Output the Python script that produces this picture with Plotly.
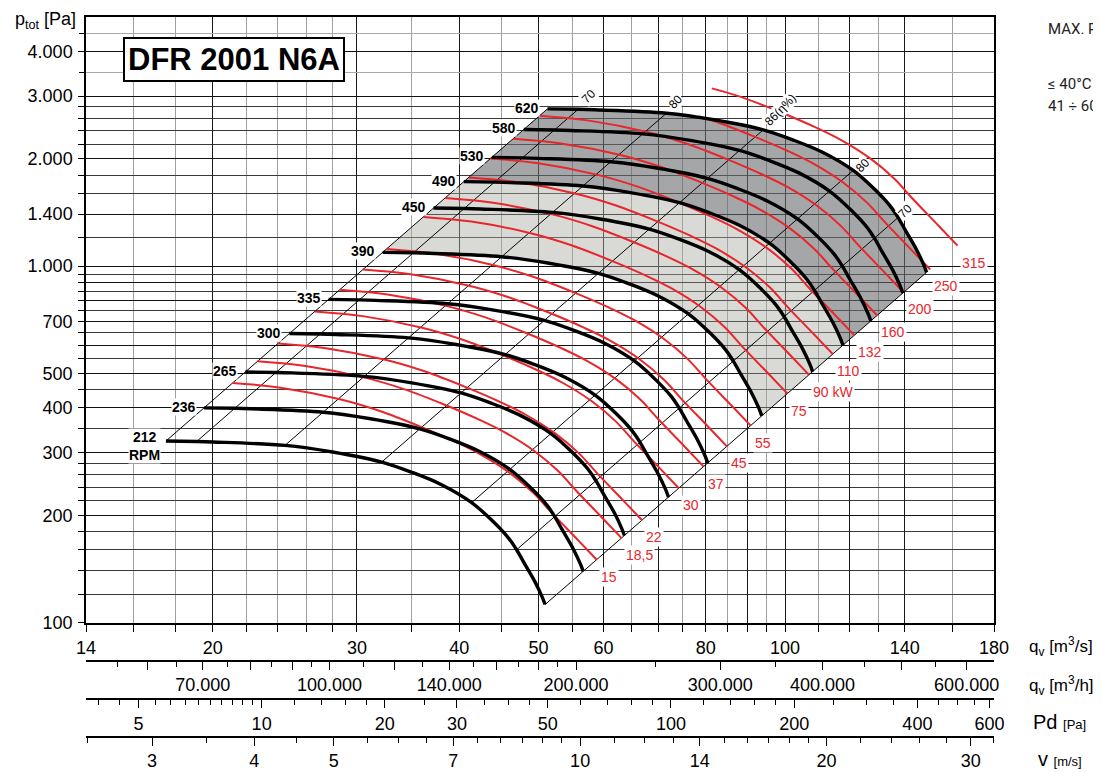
import math
import plotly.graph_objects as go

L = math.log10

# ------------------------------------------------------------------ data
# fan speeds (black characteristic curves)
rpm_values = [212, 236, 265, 300, 335, 390, 450, 490, 530, 580, 620]
rpm_labels = ['212<br>RPM', '236', '265', '300', '335', '390', '450', '490', '530', '580', '620']

# characteristic read at 212 RPM  (q in m3/s, p_tot in Pa)
base_rpm = 212
base_q = [17.53, 19.11, 20.0, 24.5, 28.0, 32.16, 35.0, 38.0, 41.42, 44.0, 46.0, 47.0, 48.0, 49.5, 50.5, 50.92]
base_p = [323, 322, 321, 314, 301, 282, 264, 244, 217, 192, 172, 160, 147, 130, 118, 112.3]

# efficiency lines: flow where they cut the 212 RPM curve (first/last = limits)
eta_q212 = [17.53, 19.11, 24.5, 32.16, 41.42, 47.0, 50.92]
eta_labels = [None, '70', '80', '86(η%)', '80', '70', None]
eta_label_shift = [None, (11, 13), (9, 11), (17, 20), (10, 5), (7, 7), None]

# motor power curves (red) - curve read for 15 kW
power_base_kw = 15
power_q = [21.15, 24.2, 28.6, 32.0, 35.8, 39.5, 42.4, 46.1, 49.3, 51.9, 55.9, 58.88]
power_p = [470, 456, 423, 392, 355, 322, 297, 263, 231, 203, 170, 150]
power_kw = [15, 18.5, 22, 30, 37, 45, 55, 75, 90, 110, 132, 160, 200, 250, 315]
power_labels = ['15', '18,5', '22', '30', '37', '45', '55', '75', '90 kW',
                '110', '132', '160', '200', '250', '315']
power_visible_from_q = [None] * 13 + [78.5, 81.4]

# shaded areas (between these speeds)
light_band = (390, 490)
dark_band = (490, 620)

# axes
q_range = (14, 180)
p_range = (100, 5000)
x_major = [14, 20, 30, 40, 50, 60, 70, 80, 90, 100, 120, 140, 180]
x_major_text = ['14', '20', '30', '40', '50', '60', ' ', '80', ' ', '100', ' ', '140', '180']
x_minor = [16, 18, 22, 24, 26, 28, 35, 45, 55, 65, 75, 85, 95, 110, 130, 160]
y_major = [100, 200, 300, 400, 500, 600, 700, 800, 900, 1000, 1400, 2000, 3000, 4000]
y_major_text = ['100', '200', '300', '400', '500', ' ', '700', ' ', ' ', '1.000', '1.400',
                '2.000', '3.000', '4.000']
y_minor = [120, 140, 160, 180, 220, 240, 260, 280, 350, 450, 550, 650, 750, 850, 950,
           1200, 1600, 1800, 2200, 2400, 2600, 2800]
y_light = [3500, 4500]

qh_major = [60000, 70000, 80000, 90000, 100000, 120000, 140000, 160000, 180000,
            200000, 300000, 400000, 500000, 600000]
qh_major_text = [' ', '70.000', ' ', ' ', '100.000', ' ', '140.000', ' ', ' ', '200.000',
                 '300.000', '400.000', ' ', '600.000']
qh_minor = [55000, 65000, 75000, 85000, 95000, 110000, 130000, 150000, 170000, 190000,
            250000, 350000, 450000, 550000]
pd_major = [5, 10, 20, 30, 50, 100, 200, 400, 600]
pd_minor = [4, 4.5, 5.5, 6, 6.5, 7, 7.5, 8, 8.5, 9, 9.5, 12, 14, 16, 18, 25, 35, 40, 45,
            60, 70, 80, 90, 120, 140, 160, 180, 250, 300, 350, 450, 500, 550]
v_major = [3, 4, 5, 7, 10, 14, 20, 30]
v_minor = [2.5, 3.5, 4.5, 5.5, 6, 6.5, 7.5, 8, 8.5, 9, 9.5, 11, 12, 13, 15, 16, 17, 18,
           19, 22, 24, 26, 28, 32]
outlet_area = 5.62      # m2
air_density = 1.2       # kg/m3

RED = '#e8262c'
FONT = 'Liberation Sans, Arial, sans-serif'


# ------------------------------------------------------------------ helpers
def speed_curve(n):
    s = n / base_rpm
    return [q * s for q in base_q], [p * s * s for p in base_p]


def power_curve(kw):
    s = (kw / power_base_kw) ** (1.0 / 3.0)
    return [q * s for q in power_q], [p * s * s for p in power_p]


def clip_from(qs, ps, q0):
    out_q, out_p = [], []
    for i in range(len(qs)):
        if qs[i] >= q0:
            if not out_q and i > 0:
                a = (L(q0) - L(qs[i - 1])) / (L(qs[i]) - L(qs[i - 1]))
                lp = L(ps[i - 1]) + a * (L(ps[i]) - L(ps[i - 1]))
                out_q.append(q0)
                out_p.append(10 ** lp)
            out_q.append(qs[i])
            out_p.append(ps[i])
    return out_q, out_p


def pd_of(q):
    v = q / outlet_area
    return 0.5 * air_density * v * v


fig = go.Figure()

# shaded bands
for (n_lo, n_hi), col in [(light_band, 'rgba(170,170,164,0.45)'),
                          (dark_band, 'rgba(105,107,110,0.60)')]:
    ql, pl = speed_curve(n_lo)
    qh, ph = speed_curve(n_hi)
    fig.add_trace(go.Scatter(x=ql, y=pl, mode='lines', line=dict(width=0, shape='spline'),
                             hoverinfo='skip', showlegend=False))
    fig.add_trace(go.Scatter(x=qh, y=ph, mode='lines', line=dict(width=0, shape='spline'),
                             fill='tonexty', fillcolor=col, hoverinfo='skip', showlegend=False))

# efficiency lines
k_top = rpm_values[-1] / base_rpm
ex, ey = [], []
for q0 in eta_q212:
    p0 = base_p[base_q.index(q0)]
    ex += [q0, q0 * k_top, None]
    ey += [p0, p0 * k_top ** 2, None]
fig.add_trace(go.Scatter(x=ex, y=ey, mode='lines', line=dict(color='black', width=1),
                         hoverinfo='skip', showlegend=False))

# power curves
for kw, vis in zip(power_kw, power_visible_from_q):
    qs, ps = power_curve(kw)
    if vis is not None:
        qs, ps = clip_from(qs, ps, vis)
    fig.add_trace(go.Scatter(x=qs, y=ps, mode='lines', line=dict(color=RED, width=2, shape='spline'),
                             hoverinfo='skip', showlegend=False))

# speed curves
for n in rpm_values:
    qs, ps = speed_curve(n)
    fig.add_trace(go.Scatter(x=qs, y=ps, mode='lines',
                             line=dict(color='black', width=3.4, shape='spline'),
                             hoverinfo='skip', showlegend=False))

# dummy traces for extra axes
for ax in ['x2', 'x3', 'x4']:
    fig.add_trace(go.Scatter(x=[None], y=[None], xaxis=ax, yaxis='y', showlegend=False,
                             hoverinfo='skip'))
fig.add_trace(go.Scatter(x=[None], y=[None], xaxis='x', yaxis='y2', showlegend=False,
                         hoverinfo='skip'))

ann = []
# rpm labels
for n, lab in zip(rpm_values, rpm_labels):
    qs, ps = speed_curve(n)
    ann.append(dict(x=L(qs[0]), y=L(ps[0]), xref='x', yref='y', text='<b>%s</b>' % lab,
                    showarrow=False, xanchor='right', yanchor='middle',
                    xshift=(-5 if '<br>' in lab else -7), yshift=(-5 if '<br>' in lab else 1),
                    font=dict(family=FONT, size=14, color='black'), bgcolor='white',
                    borderpad=0))
# power labels
for kw, lab in zip(power_kw, power_labels):
    qs, ps = power_curve(kw)
    ann.append(dict(x=L(qs[-1]), y=L(ps[-1]), xref='x', yref='y', text=lab, showarrow=False,
                    xanchor='left', yanchor='middle', xshift=2, yshift=-17,
                    font=dict(family=FONT, size=14, color=RED), bgcolor='white', borderpad=1))
# efficiency labels
for q0, lab, sh in zip(eta_q212, eta_labels, eta_label_shift):
    if lab is None:
        continue
    p0 = base_p[base_q.index(q0)]
    ann.append(dict(x=L(q0 * k_top), y=L(p0 * k_top ** 2), xref='x', yref='y', text=lab,
                    showarrow=False, textangle=-46, xanchor='center', yanchor='middle',
                    xshift=sh[0], yshift=sh[1], font=dict(family=FONT, size=12, color='black'),
                    bgcolor='white', borderpad=0))

# title box
ann.append(dict(x=0.1635, y=0.9441, xref='paper', yref='paper', text='<b>DFR 2001 N6A</b>',
                xanchor='center', yanchor='middle',
                showarrow=False, font=dict(family=FONT, size=31, color='black'),
                bgcolor='white', bordercolor='black', borderwidth=2, borderpad=3))
# axis titles
ann.append(dict(x=(78 - 86) / 908, y=0.996, xref='paper', yref='paper', xanchor='right',
                yanchor='middle', text='p<sub>tot</sub> [Pa]', showarrow=False,
                font=dict(family=FONT, size=18, color='black')))
right_titles = [
    ('q<sub>v</sub> [m<sup>3</sup>/s]', 1027, 646),
    ('q<sub>v</sub> [m<sup>3</sup>/h]', 1027, 685),
    ('Pd <span style="font-size:13px">[Pa]</span>', 1031, 722),
    ('v <span style="font-size:13px">[m/s]</span>', 1036, 759),
]
for txt, px, py in right_titles:
    size = 20 if txt.startswith(('Pd', 'v ')) else 17
    ann.append(dict(x=(px - 86) / 908, y=(772 - py) / 755, xref='paper', yref='paper',
                    xanchor='left', yanchor='middle', text=txt, showarrow=False,
                    font=dict(family=FONT, size=size, color='black')))
# notes on the right (cut by the page edge, as in the source)
for txt, py in [('MAX. RPM', 29), ('≤ 40°C', 84), ('41 ÷ 60°C', 106)]:
    ann.append(dict(x=(1046 - 86) / 908, y=(772 - py) / 755, xref='paper', yref='paper',
                    xanchor='left', yanchor='middle', text=txt, showarrow=False,
                    font=dict(family='Roboto, sans-serif', size=15, color='#222')))


def extra_axis(pos, rng, major, major_text, minor):
    return dict(type='log', range=rng, overlaying='x', anchor='free', position=pos,
                side='bottom', showgrid=False, zeroline=False, showline=True,
                linecolor='black', linewidth=2, ticks='outside', ticklen=8, tickwidth=1,
                tickcolor='black', tickvals=major, ticktext=major_text, automargin=False,
                tickfont=dict(family=FONT, size=18, color='black'), ticklabelstandoff=0,
                minor=dict(tickvals=minor, ticks='outside', ticklen=5, tickwidth=1,
                           tickcolor='black', showgrid=False))


# the page adds an 8 px body margin: margins are offset so the plot area lands
# at x 86..994 and y 17..623 of the window
fig.update_layout(
    width=1101, height=772,
    margin=dict(l=78, r=115, t=9, b=8, autoexpand=False),
    paper_bgcolor='white', plot_bgcolor='white',
    showlegend=False,
    font=dict(family=FONT, color='black'),
    xaxis=dict(type='log', range=[L(q_range[0]), L(q_range[1])], anchor='y', automargin=False,
               tickvals=x_major, ticktext=x_major_text, showgrid=True, gridcolor='#1a1a1a',
               gridwidth=1, ticks='outside', ticklen=8, tickcolor='black', showline=True,
               linecolor='black', linewidth=1.5, mirror=True, zeroline=False,
               tickfont=dict(family=FONT, size=18, color='black'), ticklabelstandoff=0,
               minor=dict(tickvals=x_minor, showgrid=True, gridcolor='#a0a0a0', gridwidth=1,
                          ticks='outside', ticklen=8, tickcolor='black')),
    yaxis=dict(type='log', range=[L(p_range[0]), L(p_range[1])], domain=[0.198, 1],
               automargin=False,
               tickvals=y_major, ticktext=y_major_text, showgrid=True, gridcolor='#111111',
               gridwidth=1, ticks='outside', ticklen=6, tickcolor='black', showline=True,
               linecolor='black', linewidth=1.5, mirror=True, zeroline=False,
               tickfont=dict(family=FONT, size=18, color='black'), ticklabelstandoff=2,
               minor=dict(tickvals=y_minor, showgrid=True, gridcolor='#3a3a3a', gridwidth=1,
                          ticks='outside', ticklen=6, tickcolor='black')),
    yaxis2=dict(type='log', range=[L(p_range[0]), L(p_range[1])], overlaying='y',
                automargin=False,
                tickvals=y_light, showticklabels=False, showgrid=True, gridcolor='#aaaaaa',
                ticks='outside', ticklen=6, tickcolor='black', zeroline=False, showline=False),
    xaxis2=extra_axis(0.1474, [L(q_range[0] * 3600), L(q_range[1] * 3600)],
                      qh_major, qh_major_text, qh_minor),
    xaxis3=extra_axis(0.0967, [L(pd_of(q_range[0])), L(pd_of(q_range[1]))],
                      pd_major, [str(v) for v in pd_major], pd_minor),
    xaxis4=extra_axis(0.0468, [L(q_range[0] / outlet_area), L(q_range[1] / outlet_area)],
                      v_major, [str(v) for v in v_major], v_minor),
    annotations=ann,
)

fig.write_html('out.html')
